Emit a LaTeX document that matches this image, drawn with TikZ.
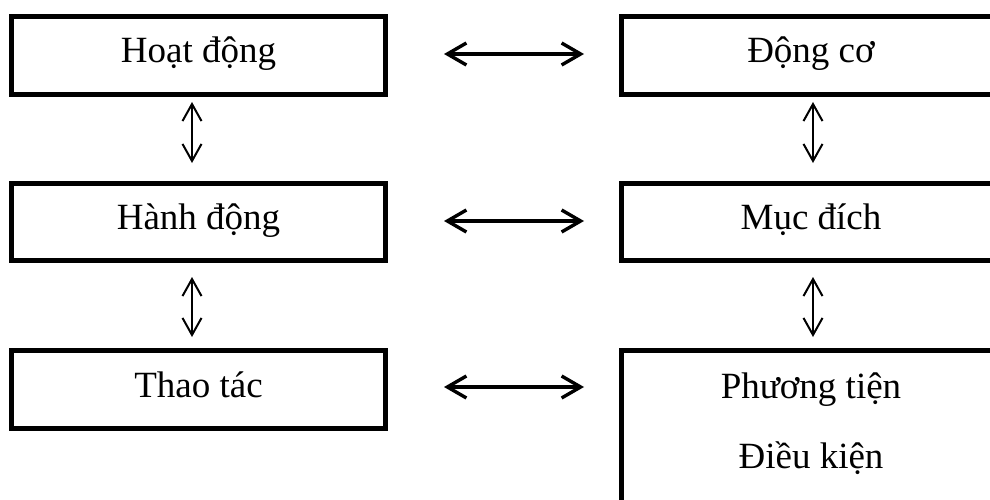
\documentclass[tikz,border=0pt]{standalone}
\usepackage{fontspec}
\setmainfont{Liberation Serif}
\usetikzlibrary{arrows.meta,calc}
\begin{document}
\begin{tikzpicture}[x=1pt,y=-1pt,
  box/.style={draw=black,line width=5pt,rectangle,inner sep=0pt,fill=white},
  lbl/.style={anchor=base,inner sep=0pt,font=\fontsize{37}{44}\selectfont},
  harr/.style={line width=3.4pt,{Straight Barb[length=19pt,width=22pt]}-{Straight Barb[length=19pt,width=22pt]}},
  varr/.style={line width=2pt,{Straight Barb[length=17pt,width=19pt]}-{Straight Barb[length=17pt,width=19pt]}}]
\path[use as bounding box,clip] (0,0) rectangle (990,500);
\fill[white] (0,0) rectangle (990,500);
% left column
\node[box,minimum width=374pt,minimum height=78pt] (b1) at (198.5,55.5) {};
\node[box,minimum width=374pt,minimum height=77pt] (b2) at (198.5,222) {};
\node[box,minimum width=374pt,minimum height=78pt] (b3) at (198.5,389.5) {};
% right column (extends past the page edge)
\node[box,minimum width=400pt,minimum height=78pt] (r1) at (821.5,55.5) {};
\node[box,minimum width=400pt,minimum height=77pt] (r2) at (821.5,222) {};
\node[box,minimum width=400pt,minimum height=180pt] (r3) at (821.5,440.5) {};
% labels
\node[lbl] (t1) at ([yshift=-7.5pt]b1.center) {Hoạt động};
\node[lbl] (t2) at ([yshift=-7.5pt]b2.center) {Hành động};
\node[lbl] (t3) at ([yshift=-7.5pt]b3.center) {Thao tác};
\node[lbl] (u1) at (811,63) {Động cơ};
\node[lbl] (u2) at (811,229.5) {Mục đích};
\node[lbl] (u3) at (811,398) {Phương tiện};
\node[lbl] (u4) at (811,468) {Điều kiện};
% horizontal arrows
\draw[harr] ([xshift=56pt,yshift=1.5pt]b1.east) -- ([xshift=-35pt,yshift=1.5pt]r1.west);
\draw[harr] ([xshift=56pt,yshift=1pt]b2.east) -- ([xshift=-35pt,yshift=1pt]r2.west);
\draw[harr] ([xshift=56pt,yshift=2.5pt]b3.east) -- ($([yshift=2.5pt]b3.east -| r3.west)+(-35pt,0pt)$);
% vertical arrows
\draw[varr] ([xshift=-6.5pt,yshift=-5pt]b1.south) -- ([xshift=-6.5pt,yshift=18pt]b2.north);
\draw[varr] ([xshift=-6.5pt,yshift=-14pt]b2.south) -- ([xshift=-6.5pt,yshift=11pt]b3.north);
\draw[varr] ([xshift=194pt,yshift=-5pt]r1.south west) -- ([xshift=194pt,yshift=18pt]r2.north west);
\draw[varr] ([xshift=194pt,yshift=-14pt]r2.south west) -- ([xshift=194pt,yshift=11pt]r3.north west);
\end{tikzpicture}
\end{document}
